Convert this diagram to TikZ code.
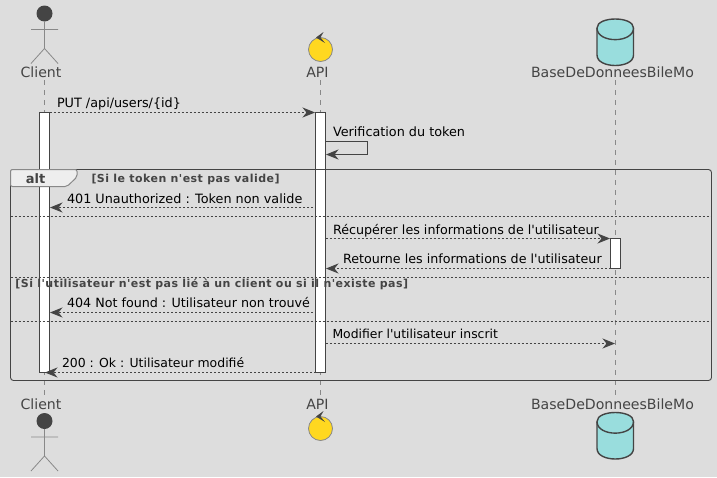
\documentclass[tikz,border=0pt]{standalone}
\usepackage{fontspec}
\newfontfamily\djv{DejaVu Sans}
\newfontfamily\djvg[LetterSpace=4.2]{DejaVu Sans}
\usetikzlibrary{arrows.meta}
\definecolor{bg}{HTML}{DDDDDD}
\definecolor{ink}{HTML}{444444}
\definecolor{pale}{HTML}{888888}
\definecolor{ctl}{HTML}{FFD820}
\definecolor{dbf}{HTML}{99DDDD}
\definecolor{tabf}{HTML}{EEEEEE}
\tikzset{
  x=1pt,y=-1pt,
  every node/.style={inner sep=0pt,outer sep=0pt},
  head/.style={font=\djv\fontsize{14.1}{16}\selectfont,text=ink,anchor=base},
  msg/.style={font=\djv\fontsize{#1}{15}\selectfont,text=black,anchor=base west},
  msg/.default=12.8,
  guard/.style={font=\djvg\fontsize{11}{12}\selectfont\bfseries,text=ink,anchor=base west},
  life/.style={draw=pale,line width=.8pt,dash pattern=on 5pt off 5pt},
  bar/.style={draw=ink,fill=white,line width=1pt},
  kite/.tip={Stealth[length=12.5pt,width=10pt,inset=4pt,color=ink]},
  call/.style={draw=ink,line width=.8pt,-{kite}},
  reply/.style={draw=ink,line width=.8pt,dash pattern=on 2pt off 2pt,-{kite}},
  sep/.style={draw=ink,line width=.8pt,dash pattern=on 2pt off 2pt},
  stick/.style={draw=pale,line width=.8pt},
  dbshape/.style={draw=ink,fill=dbf,line width=1.4pt},
}
\newcommand{\actorfig}[1]{%
  \fill[ink] (44.5,#1) circle (8);
  \draw[stick] (44.5,#1+8) -- (44.5,#1+35) (31,#1+16) -- (58,#1+16) (31,#1+50) -- (44.5,#1+35) -- (58,#1+50);}
\newcommand{\ctlfig}[1]{%
  \draw[pale,fill=ctl,line width=.8pt] (320.5,#1) circle (12);
  \fill[ink] (323.5,#1-17.5) -- (316,#1-12) -- (325,#1-6.5) -- (320.5,#1-12) -- cycle;}
\newcommand{\dbfig}[1]{%
  \path[dbshape] (597,#1+9) .. controls (597,#1-3) and (633.5,#1-3) .. (633.5,#1+9) -- (633.5,#1+36)
    .. controls (633.5,#1+50) and (597,#1+50) .. (597,#1+36) -- cycle;
  \draw[ink,line width=1.4pt] (597,#1+9) .. controls (597,#1+24.5) and (633.5,#1+24.5) .. (633.5,#1+9);}
\begin{document}
\begin{tikzpicture}
\useasboundingbox[fill=bg] (0,0) rectangle (717,477);
% lifelines
\coordinate (ct) at (44.5,80);  \coordinate (cb) at (44.5,396);
\coordinate (at) at (320.5,80); \coordinate (ab) at (320.5,396);
\coordinate (dt) at (615.5,80); \coordinate (db) at (615.5,396);
\draw[life] (ct) -- (cb);
\draw[life] (at) -- (ab);
\draw[life] (dt) -- (db);
% participants
\actorfig{13.5}
\ctlfig{49.5}
\dbfig{19}
\actorfig{421}
\ctlfig{428.5}
\dbfig{412.5}
\node[head] (client1) at (41,77.5) {Client};
\node[head] (api1) at (317.5,77.5) {API};
\node[head] (base1) at (612.5,77.5) {BaseDeDonneesBileMo};
\node[head] (client2) at (41,409) {Client};
\node[head] (api2) at (317.5,409) {API};
\node[head] (base2) at (612.5,409) {BaseDeDonneesBileMo};
% frame
\draw[ink,line width=.9pt,rounded corners=3pt] (10.5,169.5) rectangle (711.5,380.5);
% activations
\node[bar,minimum width=10pt,minimum height=260pt] (ca) at (44.5,242) {};
\node[bar,minimum width=10pt,minimum height=260pt] (aa) at (320.5,242) {};
\node[bar,minimum width=10pt,minimum height=30pt] (da) at (615.5,253) {};
% redraw frame top over bars
\draw[ink,line width=.9pt] (13,169.5) -- (709,169.5);
\path[draw=pale,fill=tabf,line width=1pt,rounded corners=2pt] (10.5,186.5) -- (10.5,169.5) -- (77,169.5) -- (77,177) -- (67,186.5) -- cycle;
\node[font=\djv\fontsize{13}{15}\selectfont\bfseries,text=ink,anchor=base] (alt) at (35.5,183) {alt};
\node[guard] (g1) at (91.5,182) {[Si le token n'est pas valide]};
\node[guard] (g2) at (15.5,287) {[Si l'utilisateur n'est pas lié à un client ou si il n'existe pas]};
\draw[sep] (10.5,216) -- (711.5,216);
\draw[sep] (10.5,277.5) -- (711.5,277.5);
\draw[sep] (10.5,321.5) -- (711.5,321.5);
% messages
\coordinate (m1a) at (49.5,112.5); \coordinate (m1b) at (315,112.5);
\draw[reply] (m1a) -- (m1b);
\node[msg] (t1) at (57,107.5) {PUT /api/users/\{id\}};
\coordinate (s1) at (325.5,141.5); \coordinate (s2) at (367.5,141.5);
\coordinate (s3) at (367.5,154.5); \coordinate (s4) at (326,154.5);
\draw[call] (s1) -- (s2) -- (s3) -- (s4);
\node[msg] (t2) at (333,136.5) {Verification du token};
\coordinate (m3a) at (313,207.5); \coordinate (m3b) at (50,207.5);
\draw[reply] (m3a) -- (m3b);
\node[msg] (t3) at (67,203) {401 Unauthorized : Token non valide};
\coordinate (m4a) at (325.5,238.5); \coordinate (m4b) at (610,238.5);
\draw[reply] (m4a) -- (m4b);
\node[msg=12.7] (t4) at (333,234) {Récupérer les informations de l'utilisateur};
\coordinate (m5a) at (610.5,268.5); \coordinate (m5b) at (326,268.5);
\draw[reply] (m5a) -- (m5b);
\node[msg=12.7] (t5) at (343,263) {Retourne les informations de l'utilisateur};
\coordinate (m6a) at (313,312.5); \coordinate (m6b) at (50,312.5);
\draw[reply] (m6a) -- (m6b);
\node[msg=12.7] (t6) at (67,307) {404 Not found : Utilisateur non trouvé};
\coordinate (m7a) at (325.5,343.5); \coordinate (m7b) at (615,343.5);
\draw[reply] (m7a) -- (m7b);
\node[msg=12.4] (t7) at (332.5,338) {Modifier l'utilisateur inscrit};
\coordinate (m8a) at (315.5,372.5); \coordinate (m8b) at (45,372.5);
\draw[reply] (m8a) -- (m8b);
\node[msg=12.45] (t8) at (62,367) {200 : Ok : Utilisateur modifié};
\end{tikzpicture}
\end{document}
